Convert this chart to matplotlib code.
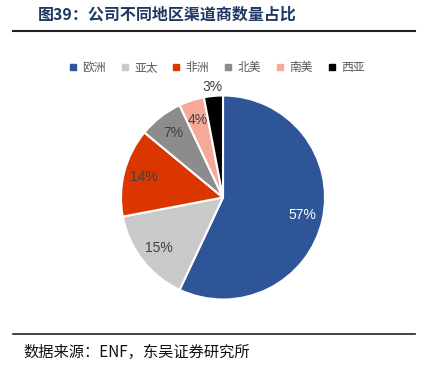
import matplotlib
matplotlib.use("Agg")
import matplotlib.pyplot as plt
from matplotlib.lines import Line2D

regions = ["欧洲", "亚太", "非洲", "北美", "南美", "西亚"]
shares = [57, 15, 14, 7, 4, 3]
colors = ["#2E5597", "#C9C9C9", "#DC3600", "#8C8C8C", "#F7A999", "#000000"]
label_colors = ["white", "#404040", "#404040", "#404040", "#404040", "#404040"]

CJK = ["Noto Sans CJK SC", "DejaVu Sans"]

fig = plt.figure(figsize=(4.22, 3.76), dpi=100)

# title + rule
fig.text(38 / 422, 1 - 15 / 376, "图39：公司不同地区渠道商数量占比", family=CJK,
         fontsize=11.5, fontweight="bold", color="#1F3864", va="center", ha="left")
fig.add_artist(Line2D([13 / 422, 415 / 422], [1 - 31 / 376] * 2, color="#222222", lw=1.5))

# source + rule
fig.add_artist(Line2D([13 / 422, 415 / 422], [1 - 334 / 376] * 2, color="#222222", lw=1.2))
fig.text(23 / 422, 1 - 352 / 376, "数据来源：ENF，东吴证券研究所", family=CJK,
         fontsize=11, color="#111111", va="center", ha="left")

# pie
cx, cy, r = 223, 197.5, 102
ax = fig.add_axes([(cx - r) / 422, 1 - (cy + r) / 376, 2 * r / 422, 2 * r / 376])
wedges, texts, autotexts = ax.pie(
    shares, colors=colors, startangle=90, counterclock=False,
    autopct="%d%%", pctdistance=0.8,
    wedgeprops=dict(edgecolor="white", linewidth=1.5),
    textprops=dict(fontsize=10, family="Liberation Sans"),
)
for t, c in zip(autotexts, label_colors):
    t.set_color(c)
# smallest slice label sits just outside the pie
x, y = autotexts[-1].get_position()
autotexts[-1].set_position((x * 1.36, y * 1.36))
ax.set_xlim(-1, 1)
ax.set_ylim(-1, 1)

handles = [Line2D([], [], marker="s", linestyle="", markersize=4, color=c) for c in colors]
fig.legend(handles, regions, loc="center", bbox_to_anchor=(217 / 422, 1 - 68 / 376),
           ncol=6, frameon=False, handlelength=0.6, handletextpad=0.5, columnspacing=1.3,
           prop=dict(family=CJK, size=8.5), labelcolor="#595959")

fig.savefig("out.png", dpi=100)
